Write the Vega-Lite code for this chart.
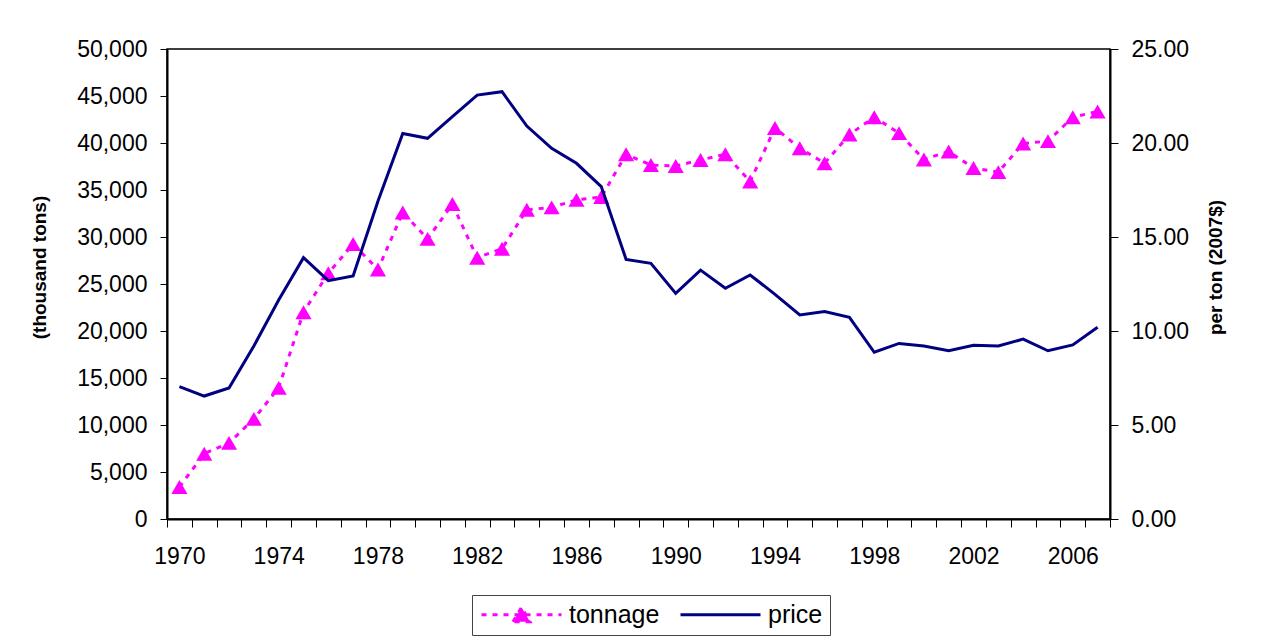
{
  "$schema": "https://vega.github.io/schema/vega-lite/v6.json",
  "autosize": {"type": "none"},
  "width": 943,
  "height": 470,
  "padding": {"left": 167, "top": 49, "right": 157, "bottom": 123},
  "background": "white",
  "data": {"values": [
    {"year": 1970, "tonnage": 3400, "price": 7.04},
    {"year": 1971, "tonnage": 6950, "price": 6.54},
    {"year": 1972, "tonnage": 8100, "price": 6.97},
    {"year": 1973, "tonnage": 10650, "price": 9.20},
    {"year": 1974, "tonnage": 13950, "price": 11.65},
    {"year": 1975, "tonnage": 22000, "price": 13.90},
    {"year": 1976, "tonnage": 26150, "price": 12.68},
    {"year": 1977, "tonnage": 29250, "price": 12.93},
    {"year": 1978, "tonnage": 26550, "price": 16.9},
    {"year": 1979, "tonnage": 32600, "price": 20.51},
    {"year": 1980, "tonnage": 29800, "price": 20.25},
    {"year": 1981, "tonnage": 33500, "price": 21.4},
    {"year": 1982, "tonnage": 27800, "price": 22.55},
    {"year": 1983, "tonnage": 28750, "price": 22.73},
    {"year": 1984, "tonnage": 32900, "price": 20.90},
    {"year": 1985, "tonnage": 33150, "price": 19.72},
    {"year": 1986, "tonnage": 33950, "price": 18.92},
    {"year": 1987, "tonnage": 34250, "price": 17.68},
    {"year": 1988, "tonnage": 38800, "price": 13.81},
    {"year": 1989, "tonnage": 37650, "price": 13.60},
    {"year": 1990, "tonnage": 37550, "price": 12.00},
    {"year": 1991, "tonnage": 38200, "price": 13.24},
    {"year": 1992, "tonnage": 38800, "price": 12.27},
    {"year": 1993, "tonnage": 35900, "price": 12.98},
    {"year": 1994, "tonnage": 41600, "price": 11.95},
    {"year": 1995, "tonnage": 39450, "price": 10.85},
    {"year": 1996, "tonnage": 37850, "price": 11.03},
    {"year": 1997, "tonnage": 40900, "price": 10.73},
    {"year": 1998, "tonnage": 42750, "price": 8.87},
    {"year": 1999, "tonnage": 41050, "price": 9.34},
    {"year": 2000, "tonnage": 38250, "price": 9.20},
    {"year": 2001, "tonnage": 39100, "price": 8.95},
    {"year": 2002, "tonnage": 37350, "price": 9.24},
    {"year": 2003, "tonnage": 36900, "price": 9.20},
    {"year": 2004, "tonnage": 39950, "price": 9.57},
    {"year": 2005, "tonnage": 40200, "price": 8.95},
    {"year": 2006, "tonnage": 42750, "price": 9.26},
    {"year": 2007, "tonnage": 43350, "price": 10.20}
  ]},
  "encoding": {
    "x": {
      "field": "year",
      "type": "ordinal",
      "scale": {"type": "band", "paddingInner": 0, "paddingOuter": 0},
      "axis": {
        "title": null,
        "labelAngle": 0,
        "tickBand": "extent",
        "tickSize": 8,
        "labelPadding": 18,
        "domainWidth": 2,
        "labelExpr": "datum.value % 4 == 2 ? datum.label : ''"
      }
    }
  },
  "layer": [
    {
      "layer": [
        {
          "mark": {"type": "line", "strokeDash": [5, 6], "strokeWidth": 3},
          "encoding": {
            "y": {
              "field": "tonnage",
              "type": "quantitative",
              "scale": {"domain": [0, 50000], "nice": false},
              "axis": {
                "title": "(thousand tons)",
                "values": [0, 5000, 10000, 15000, 20000, 25000, 30000, 35000, 40000, 45000, 50000],
                "format": ",.0f",
                "tickSize": 7,
                "labelPadding": 13,
                "domainWidth": 2,
                "titleX": -128,
                "titleY": 218,
                "titleAngle": 270,
                "titleBaseline": "middle"
              }
            },
            "color": {
              "datum": "tonnage",
              "type": "nominal",
              "scale": {"domain": ["tonnage", "price"], "range": ["#FF00FF", "#000080"]},
              "legend": {
                "title": null,
                "orient": "none",
                "direction": "horizontal",
                "legendX": 305,
                "legendY": 546,
                "symbolSize": 400,
                "symbolStrokeWidth": 3,
                "labelFont": "Liberation Sans",
                "labelFontSize": 25,
                "labelColor": "#000",
                "labelOffset": 65,
                "columnPadding": 14,
                "padding": 7,
                "strokeColor": "#444",
                "encode": {
                  "symbols": {
                    "update": {
                      "shape": {"signal": "datum.value === 'tonnage' ? 'M-1,0H7M2.15,0.7L3,-0.75L3.85,0.7Z' : 'M-1,0H7'"},
                      "fill": {"signal": "datum.value === 'tonnage' ? '#FF00FF' : 'transparent'"},
                      "strokeDash": {"signal": "datum.value === 'tonnage' ? [5, 6] : [1, 0]"},
                      "strokeWidth": {"value": 3},
                      "opacity": {"value": 1}
                    }
                  }
                }
              }
            }
          }
        },
        {
          "mark": {"type": "point", "shape": "triangle-up", "filled": true, "size": 260, "opacity": 1},
          "encoding": {
            "y": {
              "field": "tonnage",
              "type": "quantitative",
              "scale": {"domain": [0, 50000], "nice": false}
            },
            "color": {"value": "#FF00FF"}
          }
        }
      ]
    },
    {
      "mark": {"type": "line", "strokeWidth": 3},
      "encoding": {
        "y": {
          "field": "price",
          "type": "quantitative",
          "scale": {"domain": [0, 25], "nice": false},
          "axis": {
            "orient": "right",
            "title": "per ton (2007$)",
            "values": [0, 5, 10, 15, 20, 25],
            "format": ".2f",
            "tickSize": 8,
            "labelPadding": 13,
            "domainWidth": 2,
            "titleX": 105,
            "titleY": 218,
            "titleAngle": 270,
            "titleBaseline": "middle"
          }
        },
        "color": {"datum": "price", "type": "nominal"}
      }
    }
  ],
  "resolve": {"scale": {"y": "independent"}},
  "config": {
    "view": {"stroke": "#000", "strokeWidth": 1.5},
    "axis": {
      "grid": false,
      "labelFont": "Liberation Sans",
      "labelFontSize": 23,
      "labelColor": "#000",
      "domainColor": "#000",
      "tickColor": "#000",
      "titleFont": "Liberation Sans",
      "titleFontSize": 19,
      "titleFontWeight": "bold",
      "titleColor": "#000"
    }
  }
}
